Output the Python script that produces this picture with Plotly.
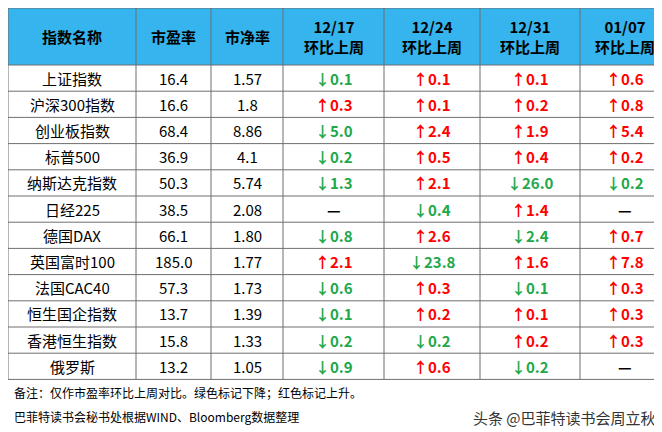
import plotly.graph_objects as go

names = ["上证指数", "沪深300指数", "创业板指数", "标普500", "纳斯达克指数", "日经225",
         "德国DAX", "英国富时100", "法国CAC40", "恒生国企指数", "香港恒生指数", "俄罗斯"]
pe = ["16.4", "16.6", "68.4", "36.9", "50.3", "38.5", "66.1", "185.0", "57.3", "13.7", "15.8", "13.2"]
pb = ["1.57", "1.8", "8.86", "4.1", "5.74", "2.08", "1.80", "1.77", "1.73", "1.39", "1.33", "1.05"]
weeks = ["12/17", "12/24", "12/31", "01/07"]
# signed weekly change; None = no data
chg = {
    "12/17": [-0.1, 0.3, -5.0, -0.2, -1.3, None, -0.8, 2.1, -0.6, -0.1, -0.2, -0.9],
    "12/24": [0.1, 0.1, 2.4, 0.5, 2.1, -0.4, 2.6, -23.8, 0.3, 0.2, -0.2, 0.6],
    "12/31": [0.1, 0.2, 1.9, 0.4, -26.0, 1.4, -2.4, 1.6, -0.1, 0.1, 0.2, -0.2],
    "01/07": [0.6, 0.8, 5.4, 0.2, -0.2, None, 0.7, 7.8, 0.3, 0.3, 0.3, None],
}
notes = ["备注：仅作市盈率环比上周对比。绿色标记下降；红色标记上升。",
         "巴菲特读书会秘书处根据WIND、Bloomberg数据整理"]
watermark = "头条 @巴菲特读书会周立秋"

RED, GREEN, BLACK = "#ff0000", "#21a84a", "#000000"
FONT = "Noto Sans CJK SC"
col_edges = [0, 128, 203, 275, 376, 472, 572, 661]
head_h = 57
row_h = 26.2

def fmt(v):
    if v is None:
        return "<b>—</b>"
    return ("<b>↑%.1f</b>" if v > 0 else "<b>↓%.1f</b>") % abs(v)

def col(v):
    if v is None:
        return BLACK
    return RED if v > 0 else GREEN

values = [names, pe, pb] + [[fmt(v) for v in chg[w]] for w in weeks]
colors = [[BLACK] * 12] * 3 + [[col(v) for v in chg[w]] for w in weeks]
headers = ["<b>指数名称</b>", "<b>市盈率</b>", "<b>市净率</b>"] + ["<b>%s<br>环比上周</b>" % w for w in weeks]

fig = go.Figure()
n = len(names)
bottom = head_h + n * row_h

# header background and grid
fig.add_shape(type="rect", x0=0, x1=col_edges[-1], y0=0, y1=head_h,
              fillcolor="#35b4ee", line_width=0, layer="below")
for x in col_edges:
    fig.add_shape(type="line", x0=x, x1=x, y0=0, y1=bottom, line=dict(color="#6f6f6f", width=1))
for i in range(n + 2):
    y = 0 if i == 0 else head_h + (i - 1) * row_h
    fig.add_shape(type="line", x0=0, x1=col_edges[-1], y0=y, y1=y, line=dict(color="#6f6f6f", width=1))

for j in range(7):
    cx = (col_edges[j] + col_edges[j + 1]) / 2
    fig.add_annotation(x=cx, y=head_h / 2, text=headers[j], showarrow=False,
                       font=dict(family=FONT, size=15, color="black"))
    for i in range(n):
        cy = head_h + (i + 0.5) * row_h
        fig.add_annotation(x=cx, y=cy, text=values[j][i], showarrow=False,
                           font=dict(family=FONT, size=15, color=colors[j][i]))

fig.add_annotation(x=4, y=384, text=notes[0], showarrow=False, xanchor="left",
                   font=dict(family=FONT, size=12, color="black"))
fig.add_annotation(x=4, y=408, text=notes[1], showarrow=False, xanchor="left",
                   font=dict(family=FONT, size=12, color="black"))
fig.add_annotation(x=650, y=409, text=watermark, showarrow=False, xanchor="right",
                   font=dict(family=FONT, size=15, color="#333333"))

fig.update_xaxes(range=[0, 662], visible=False)
fig.update_yaxes(range=[432, 0], visible=False)
fig.update_layout(width=662, height=432, margin=dict(l=0, r=0, t=0, b=0),
                  paper_bgcolor="white", plot_bgcolor="white")
fig.write_html("out.html")
